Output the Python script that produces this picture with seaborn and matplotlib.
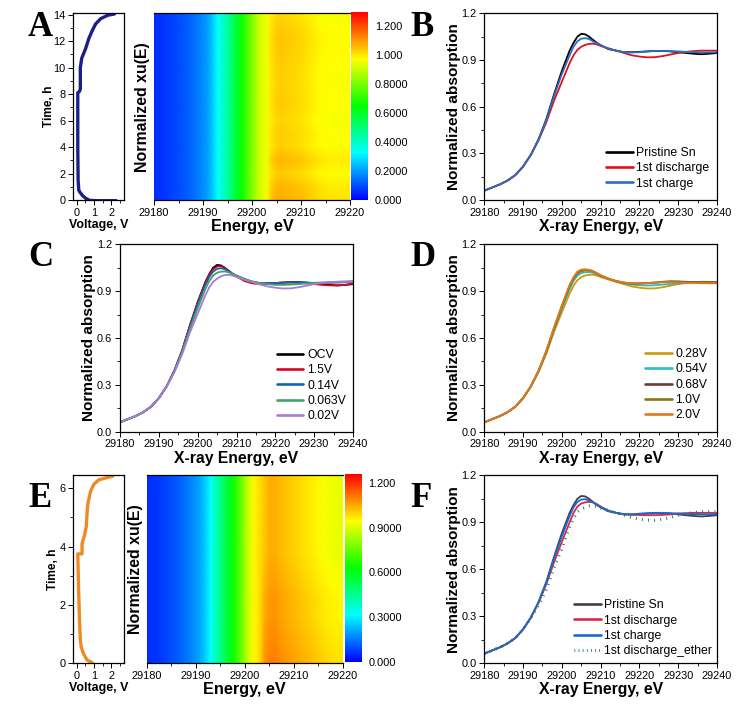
import matplotlib
matplotlib.use('Agg')
import matplotlib.pyplot as plt
import seaborn as sns
import numpy as np
from matplotlib.colors import LinearSegmentedColormap
from matplotlib.ticker import MultipleLocator

sns.set_style('ticks')
plt.rcParams['font.family'] = ['Liberation Sans', 'DejaVu Sans']
plt.rcParams.update({'text.color': 'black', 'axes.labelcolor': 'black', 'axes.edgecolor': 'black',
                     'xtick.color': 'black', 'ytick.color': 'black'})

# --- XANES curves ---
energy = [29180, 29182, 29184, 29186, 29188, 29190, 29192, 29194, 29196, 29198, 29200,
          29202, 29203, 29204, 29205, 29206, 29207, 29208, 29209, 29210,
          29212, 29214, 29216, 29218, 29220, 29222, 29224, 29226, 29228, 29230, 29232,
          29234, 29236, 29238, 29240]
low_edge = [.06, .08, .10, .125, .16, .215, .29]

pristine = low_edge + [.39, .52, .68, .83, .96, 1.01, 1.05, 1.068, 1.065, 1.05, 1.03, 1.01, .995,
                       .97, .96, .95, .95, .952, .955, .958, .958, .955, .95, .945, .94, .937, .94, .945]
discharge = low_edge + [.385, .50, .64, .76, .88, .93, .965, .985, .997, 1.003, 1.005, 1.0, .99,
                        .975, .96, .945, .93, .922, .917, .918, .925, .935, .945, .952, .957, .96, .96, .96]
charge = low_edge + [.39, .515, .67, .81, .93, .985, 1.02, 1.037, 1.04, 1.035, 1.02, 1.007, .995,
                     .972, .96, .95, .948, .95, .955, .958, .958, .957, .955, .952, .95, .948, .948, .95]

v15 = low_edge + [.39, .52, .68, .825, .955, 1.005, 1.04, 1.058, 1.06, 1.047, 1.03, 1.01, .995,
                  .965, .95, .945, .948, .952, .955, .955, .953, .95, .945, .94, .937, .936, .94, .95]
v014 = low_edge + [.39, .515, .67, .815, .94, .99, 1.025, 1.042, 1.047, 1.04, 1.027, 1.012, 1.0,
                   .975, .96, .952, .95, .952, .955, .956, .956, .955, .953, .952, .953, .955, .957, .96]
v0063 = low_edge + [.385, .51, .655, .79, .915, .965, 1.0, 1.018, 1.025, 1.026, 1.02, 1.01, 1.0,
                    .98, .963, .952, .945, .94, .94, .942, .945, .95, .953, .956, .958, .96, .962, .965]
v002 = low_edge + [.38, .495, .635, .755, .875, .925, .96, .98, .995, 1.003, 1.005, 1.0, .99,
                   .972, .958, .943, .93, .922, .917, .918, .925, .935, .945, .952, .957, .96, .96, .96]

v028 = low_edge + [.385, .50, .64, .765, .885, .935, .97, .99, 1.0, 1.005, 1.005, 1.0, .99,
                   .975, .96, .945, .93, .922, .917, .918, .925, .935, .945, .952, .957, .96, .96, .958]
v054 = low_edge + [.385, .51, .655, .79, .915, .965, 1.0, 1.015, 1.022, 1.022, 1.018, 1.01, 1.0,
                   .98, .963, .95, .942, .938, .936, .938, .942, .946, .95, .955, .958, .958, .958, .958]
v068 = low_edge + [.39, .515, .665, .805, .935, .985, 1.02, 1.033, 1.037, 1.035, 1.028, 1.015, 1.0,
                   .98, .965, .955, .95, .95, .952, .955, .96, .963, .962, .96, .958, .957, .957, .957]
v10 = low_edge + [.39, .515, .66, .80, .93, .98, 1.012, 1.028, 1.033, 1.032, 1.025, 1.012, 1.0,
                  .978, .962, .952, .948, .948, .95, .953, .958, .96, .96, .958, .956, .956, .956, .956]
v20 = low_edge + [.39, .52, .67, .81, .94, .99, 1.025, 1.038, 1.04, 1.037, 1.028, 1.015, 1.002,
                  .98, .965, .955, .95, .95, .952, .955, .957, .957, .955, .953, .952, .951, .95, .95]

discharge_f = low_edge + [.385, .505, .645, .775, .90, .96, 1.0, 1.02, 1.027, 1.03, 1.027, 1.017, 1.0,
                          .975, .96, .95, .948, .946, .945, .945, .947, .95, .955, .958, .96, .96, .96, .958]
charge_f = low_edge + [.39, .515, .67, .81, .94, .995, 1.03, 1.045, 1.047, 1.04, 1.028, 1.012, .998,
                       .972, .96, .952, .95, .955, .958, .96, .96, .958, .956, .953, .952, .951, .95, .95]
ether_f = low_edge + [.37, .47, .61, .73, .87, .925, .965, .985, .995, 1.003, 1.005, 1.0, .99,
                      .975, .96, .945, .93, .92, .913, .913, .92, .93, .945, .955, .962, .968, .968, .965]

# --- voltage profiles ---
volt_a = [2.3, 1.2, .75, .55, .35, .2, .12, .1, .07, .05, .05, .05, .15, .2, .2, .2, .28, .5, .7, .9, 1.1, 1.4, 1.8, 2.2]
time_a = [-.05, -.05, -.03, .1, .3, .55, .7, .9, 1.5, 4, 6, 8.1, 8.2, 8.4, 9, 10, 10.7, 11.4, 12.2, 12.8, 13.3, 13.7, 13.95, 14.05]
volt_e = [.9, .6, .4, .25, .2, .15, .1, .05, .3, .3, .45, .55, .6, .65, .8, 1.0, 1.3, 2.1]
time_e = [.01, .1, .3, .55, .8, 1.5, 2.5, 3.75, 3.75, 4.1, 4.4, 4.7, 5.2, 5.5, 5.9, 6.15, 6.3, 6.42]

# --- heat maps: profile across energy, plus row-to-row change above the edge ---
heat_energy = list(range(29180, 29221))
heat_a = [.06, .065, .07, .08, .09, .10, .11, .125, .14, .16,
          .18, .21, .26, .33, .39, .45, .52, .60, .67, .74,
          .81, .88, .93, .955, 1.01, 1.035, 1.04, 1.035, 1.03, 1.025,
          1.02, 1.01, 1.0, .99, .98, .975, .97, .97, .97, .97, .97]
heat_e = [.055, .06, .065, .075, .085, .10, .11, .125, .145, .165,
          .185, .215, .26, .32, .39, .46, .53, .60, .66, .73,
          .82, .90, .95, .98, 1.04, 1.07, 1.075, 1.06, 1.05, 1.04,
          1.03, 1.02, 1.01, 1.0, .99, .98, .97, .96, .955, .95, .95]
rows_a = [.04, .03, 0, .03, -.005, 0, -.01, 0, 0, -.005, 0, .005, .01, 0, -.01]
rows_e = [.03, .02, .01, 0, 0, -.01, -.02, -.03, -.03, -.03, -.03, -.03, -.03]

ticks_a = [0, .2, .4, .6, .8, 1.0, 1.2]
labels_a = ['0.000', '0.2000', '0.4000', '0.6000', '0.8000', '1.000', '1.200']
ticks_e = [0, .3, .6, .9, 1.2]
labels_e = ['0.000', '0.3000', '0.6000', '0.9000', '1.200']

rainbow = LinearSegmentedColormap.from_list('origin_rainbow', ['#0000ff', '#00ffff', '#00ff00', '#ffff00', '#ff0000'])

W, H = 741, 706
fig = plt.figure(figsize=(W / 100, H / 100), dpi=100)


def box(x0, y0, x1, y1):
    # pixel box (top-left origin) to a new axes
    return fig.add_axes([x0 / W, 1 - y1 / H, (x1 - x0) / W, (y1 - y0) / H])


def style_ax(ax):
    for s in ax.spines.values():
        s.set_linewidth(0.9)
    ax.tick_params(which='major', direction='out', length=3.5, width=0.7, labelsize=7.9, pad=2, top=False, right=False)
    ax.tick_params(which='minor', direction='out', length=2, width=0.6, top=False, right=False)


def curves(ax, series, colors, labels, legend_at, ls_last=False):
    for i, (vals, c, lab) in enumerate(zip(series, colors, labels)):
        if ls_last and i == len(series) - 1:
            sns.lineplot(x=energy, y=vals, color=c, lw=2.2, label=lab, ax=ax, estimator=None, sort=False,
                         dashes=False, linestyle=(0, (0.3, 1.7)))
        else:
            sns.lineplot(x=energy, y=vals, color=c, lw=1.3, label=lab, ax=ax, estimator=None, sort=False)
    ax.set_xlim(29180, 29240)
    ax.set_ylim(0, 1.2)
    ax.xaxis.set_major_locator(MultipleLocator(10))
    ax.xaxis.set_minor_locator(MultipleLocator(5))
    ax.yaxis.set_major_locator(MultipleLocator(0.3))
    ax.yaxis.set_minor_locator(MultipleLocator(0.15))
    ax.set_xlabel('X-ray Energy, eV', fontsize=11.3, fontweight='bold', labelpad=1)
    ax.set_ylabel('Normalized absorption', fontsize=11.1, fontweight='bold', labelpad=0.5)
    style_ax(ax)
    leg = ax.legend(loc='lower left', bbox_to_anchor=legend_at, frameon=False, fontsize=8.8, borderpad=0,
                    borderaxespad=0, labelspacing=0.27, handlelength=2.2, handletextpad=0.3)
    for line in leg.get_lines():
        if ls_last and line is leg.get_lines()[-1]:
            line.set_linestyle((0, (0.25, 1.1)))
        else:
            line.set_linewidth(1.9)


def voltage(ax, v, t, color, ymax, major, ylab_pad):
    sns.lineplot(x=v, y=t, color=color, lw=2.4, ax=ax, estimator=None, sort=False, solid_joinstyle='round')
    ax.set_xlim(-0.23, 2.76)
    ax.set_ylim(0, ymax)
    ax.xaxis.set_major_locator(MultipleLocator(1))
    ax.xaxis.set_minor_locator(MultipleLocator(0.5))
    ax.yaxis.set_major_locator(MultipleLocator(major))
    ax.yaxis.set_minor_locator(MultipleLocator(major / 2))
    ax.set_xlabel('Voltage, V', fontsize=8.9, fontweight='bold', labelpad=1)
    ax.set_ylabel('Time, h', fontsize=8.6, fontweight='bold', labelpad=ylab_pad)
    style_ax(ax)


def heat(ax, cax, profile, row_change, vmax, ticks, labels, ylab_pad):
    profile = np.array(profile)
    above_edge = np.array(heat_energy) >= 29204
    matrix = np.array([profile + r * above_edge for r in row_change])
    rows = np.arange(len(row_change))
    mesh = ax.pcolormesh(heat_energy, rows, matrix, shading='gouraud', cmap=rainbow, vmin=0, vmax=vmax)
    ax.set_xlim(29180, 29220)
    ax.set_ylim(0, len(row_change) - 1)
    ax.xaxis.set_major_locator(MultipleLocator(10))
    ax.xaxis.set_minor_locator(MultipleLocator(5))
    ax.ticklabel_format(useOffset=False, style='plain', axis='x')
    ax.set_yticks([])
    ax.set_xlabel('Energy, eV', fontsize=11.7, fontweight='bold', labelpad=1)
    ax.set_ylabel('Normalized xu(E)', fontsize=11.4, fontweight='bold', labelpad=ylab_pad)
    style_ax(ax)
    ax.spines['left'].set_visible(False)
    ax.spines['right'].set_visible(False)
    cbar = fig.colorbar(mesh, cax=cax)
    cbar.outline.set_visible(False)
    cbar.set_ticks(ticks)
    cbar.set_ticklabels(labels)
    cax.tick_params(length=0, labelsize=7.9, pad=5)
    cax.minorticks_off()


# panel A
voltage(box(73, 13.3, 124, 200), volt_a, time_a, '#1b1f8a', 14.1, 2, -1.7)
heat(box(154, 13.3, 350, 200), box(351, 12, 368, 200), heat_a, rows_a, 1.3, ticks_a, labels_a, 3)

# panel B
curves(box(484.3, 13.3, 717, 200), [pristine, discharge, charge], ['black', '#e0101c', '#2a6fc0'],
       ['Pristine Sn', '1st discharge', '1st charge'], (0.522, 0.055))

# panel C
curves(box(120, 244.3, 353, 431.7), [pristine, v15, v014, v0063, v002],
       ['black', '#d8051f', '#1565b0', '#45a070', '#a97ad6'],
       ['OCV', '1.5V', '0.14V', '0.063V', '0.02V'], (0.672, 0.05))

# panel D
curves(box(484.3, 244.3, 717, 431.7), [v028, v054, v068, v10, v20],
       ['#cc9a10', '#2ebcc4', '#6e3a3c', '#7f7a18', '#e4761f'],
       ['0.28V', '0.54V', '0.68V', '1.0V', '2.0V'], (0.69, 0.055))

# panel E
voltage(box(73, 475.3, 124, 663), volt_e, time_e, '#ee8a24', 6.45, 2, 0.5)
heat(box(146.7, 475.3, 342.7, 663), box(345, 474, 361.7, 662), heat_e, rows_e, 1.26, ticks_e, labels_e, 3)

# panel F
curves(box(484.3, 475.3, 717, 663), [pristine, discharge_f, charge_f, ether_f],
       ['#3f3f46', '#d8284e', '#1c6ad0', '#1f7a50'],
       ['Pristine Sn', '1st discharge', '1st charge', '1st discharge_ether'], (0.385, 0.03), ls_last=True)

# panel letters
letters = {'A': (28, 36), 'B': (410, 36), 'C': (28, 266), 'D': (410, 266), 'E': (28, 507), 'F': (410, 507)}
for name, (px, py) in letters.items():
    fig.text(px / W, 1 - py / H, name, fontsize=25, fontweight='bold', family='Liberation Serif', va='baseline')

fig.savefig('out.png', dpi=100)
